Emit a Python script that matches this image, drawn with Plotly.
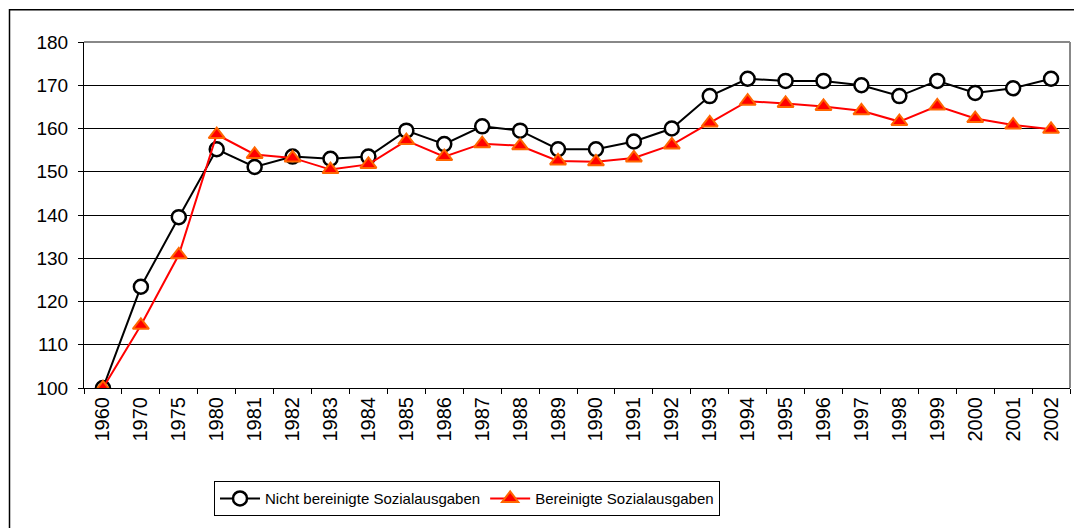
import plotly.graph_objects as go

years = ["1960", "1970", "1975", "1980", "1981", "1982", "1983", "1984", "1985", "1986",
         "1987", "1988", "1989", "1990", "1991", "1992", "1993", "1994", "1995", "1996",
         "1997", "1998", "1999", "2000", "2001", "2002"]
nicht_bereinigt = [100, 123.4, 139.5, 155.2, 151.1, 153.5, 153.0, 153.5, 159.5, 156.4,
                   160.5, 159.5, 155.2, 155.2, 157.0, 160.0, 167.5, 171.5, 171.0, 171.0,
                   170.0, 167.5, 171.0, 168.2, 169.3, 171.5]
bereinigt = [100, 114.5, 130.8, 158.6, 154.0, 153.2, 150.5, 151.7, 157.2, 153.5,
             156.5, 156.0, 152.5, 152.3, 153.2, 156.2, 161.3, 166.3, 165.8, 165.1,
             164.1, 161.6, 165.2, 162.3, 160.8, 159.8]
y_ticks = [100, 110, 120, 130, 140, 150, 160, 170, 180]

OFF = 8  # page body margin
W, H = 1082 - OFF, 528 - OFF
L = 84 - OFF
T = 42 - OFF
R = W - (1070 - OFF)
B = H - (391 - OFF)
pw, ph = W - L - R, H - T - B


def px_x(p):
    return (p - OFF - L) / pw


def px_y(p):
    return (H - B - (p - OFF)) / ph


fig = go.Figure()
fig.add_trace(go.Scatter(
    x=years, y=nicht_bereinigt, name="Nicht bereinigte Sozialausgaben",
    mode="lines+markers",
    line=dict(color="black", width=2),
    marker=dict(symbol="circle", size=14, color="white", line=dict(color="black", width=2.5)),
))
fig.add_trace(go.Scatter(
    x=years, y=bereinigt, name="Bereinigte Sozialausgaben",
    mode="lines+markers",
    line=dict(color="#FF0000", width=2),
    marker=dict(symbol="triangle-up", size=14, color="#FF0000", line=dict(color="#FF6600", width=2)),
))

fig.update_layout(
    width=W, height=H,
    margin=dict(l=L, r=R, t=T, b=B),
    paper_bgcolor="white", plot_bgcolor="white",
    font=dict(family="Liberation Sans, Arial, sans-serif", color="black"),
    showlegend=True,
    legend=dict(
        orientation="h", x=px_x(214), xanchor="left", y=px_y(485), yanchor="top",
        bordercolor="black", borderwidth=1, bgcolor="white",
        font=dict(size=15), itemwidth=40, tracegroupgap=0,
    ),
    xaxis=dict(
        type="category", tickangle=-90, tickfont=dict(size=20),
        showline=True, linecolor="black", linewidth=1,
        ticks="outside", tickson="boundaries", ticklen=5, tickcolor="black",
        showgrid=False, mirror=False, range=[-0.5, len(years) - 0.5],
    ),
    yaxis=dict(
        range=[100, 180], tickvals=y_ticks, tickfont=dict(size=19),
        showline=True, linecolor="black", linewidth=1,
        ticks="outside", ticklen=5, tickcolor="black", ticklabelstandoff=6,
        showgrid=True, gridcolor="black", gridwidth=1, zeroline=False,
    ),
    shapes=[
        dict(type="line", xref="paper", yref="paper", x0=0, x1=1, y0=1, y1=1,
             line=dict(color="#888888", width=2)),
        dict(type="line", xref="paper", yref="paper", x0=1, x1=1, y0=0, y1=1,
             line=dict(color="#888888", width=2)),
        dict(type="rect", xref="paper", yref="paper",
             x0=px_x(9.5), x1=px_x(1100), y0=px_y(545), y1=px_y(9.5),
             line=dict(color="black", width=1.5), layer="below"),
    ],
)

fig.write_html("out.html")
